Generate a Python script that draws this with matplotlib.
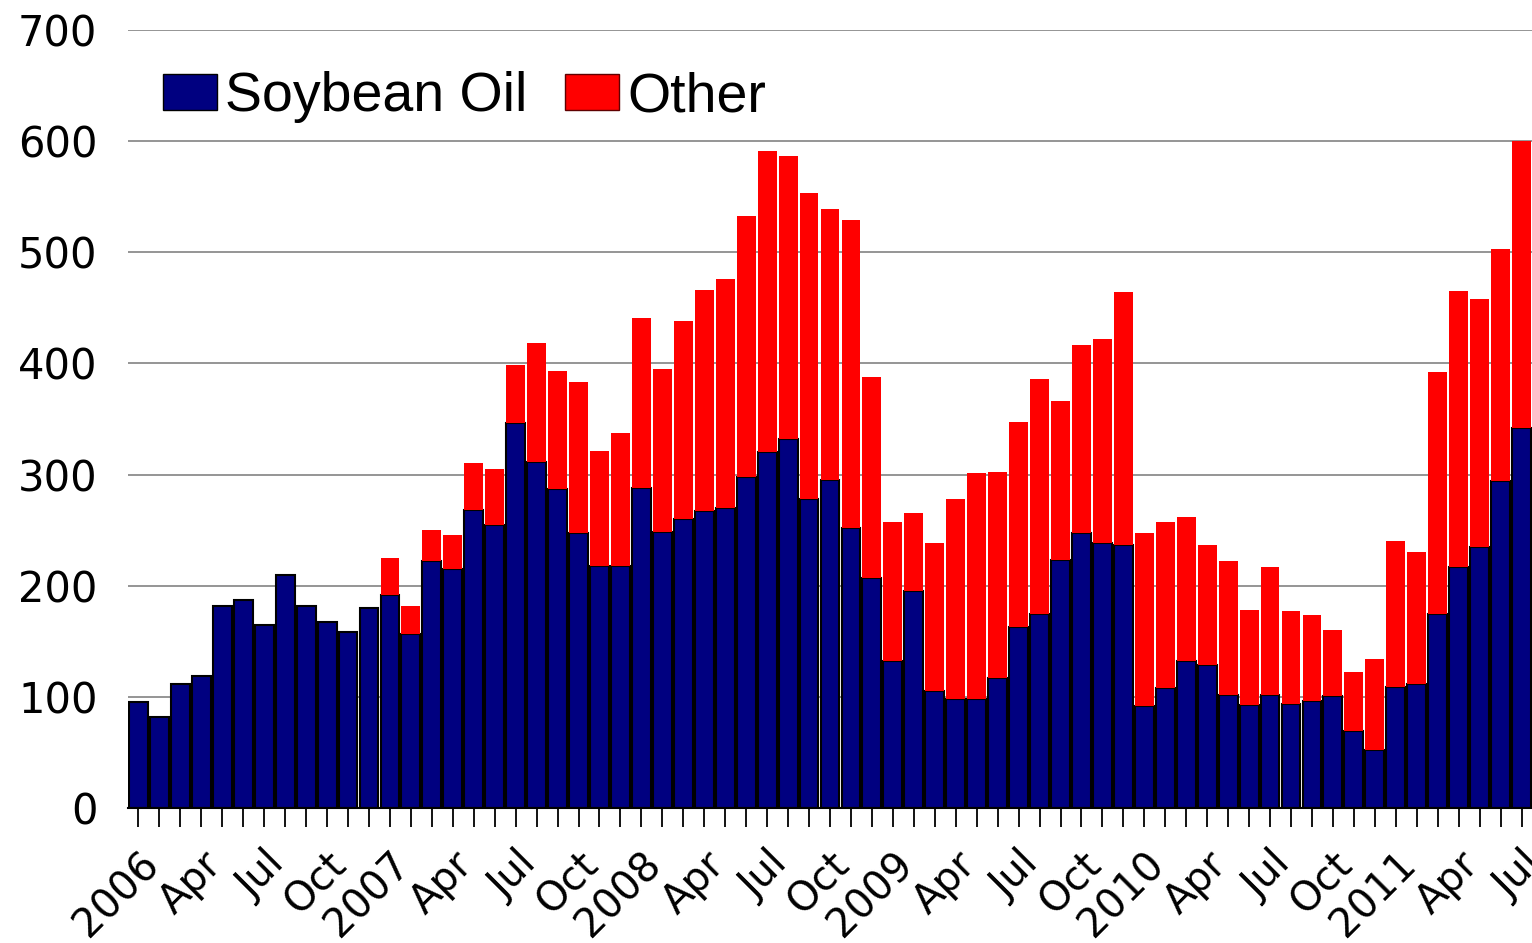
import numpy as np
import matplotlib
matplotlib.use('Agg')
import matplotlib.pyplot as plt
from matplotlib.patches import Patch

# monthly values, Jan 2006 .. Jul 2011
years = ['2006', '2007', '2008', '2009', '2010', '2011']
soybean = [95, 82, 112, 119, 182, 187, 165, 210, 182, 167, 158, 180,
           192, 157, 222, 215, 268, 255, 346, 311, 287, 247, 218, 218,
           288, 248, 260, 267, 270, 298, 320, 332, 278, 295, 252, 207,
           132, 195, 105, 98, 98, 117, 163, 175, 223, 247, 238, 237,
           92, 108, 132, 129, 102, 93, 102, 94, 96, 101, 69, 52,
           109, 112, 175, 217, 235, 294, 342]
other = [0, 0, 0, 0, 0, 0, 0, 0, 0, 0, 0, 0,
         33, 25, 28, 31, 42, 50, 53, 107, 106, 136, 103, 119,
         153, 147, 178, 199, 206, 235, 271, 255, 275, 244, 277, 181,
         125, 70, 133, 180, 203, 185, 184, 211, 143, 170, 184, 227,
         155, 149, 130, 108, 120, 85, 115, 83, 78, 59, 53, 82,
         131, 118, 217, 248, 223, 209, 258]
month_names = ['Apr', 'Jul', 'Oct']

NAVY = '#000080'
RED = '#ff0000'

n = len(soybean)
x = np.arange(n)

fig = plt.figure(figsize=(15.32, 9.43), dpi=100)
ax = fig.add_axes([128 / 1532, 1 - 808 / 943, 1 - 128 / 1532, (808 - 30) / 943])

ax.bar(x, soybean, width=0.9, color=NAVY, edgecolor='black', linewidth=1.5, zorder=3)
ax.bar(x, other, bottom=soybean, width=0.9, color=RED, edgecolor='none', zorder=3)

ax.set_xlim(-0.5, n - 0.5)
ax.set_ylim(0, 700)
ax.set_yticks(range(0, 701, 100))
ax.yaxis.grid(True, color='#8c8c8c', linewidth=1.3, zorder=0)
ax.tick_params(axis='y', length=0, pad=22, labelsize=30)

# x labels: year at January, month abbreviations every quarter
labels = []
for i in range(n):
    if i % 12 == 0:
        labels.append(years[i // 12])
    elif i % 3 == 0:
        labels.append(month_names[(i % 12) // 3 - 1])
    else:
        labels.append('')
ax.set_xticks(x)
ax.set_xticklabels(labels, rotation=45, ha='right', rotation_mode='anchor', fontsize=29)
ax.tick_params(axis='x', length=14, width=1.3, pad=12, color='black')

for side in ['top', 'right', 'left']:
    ax.spines[side].set_visible(False)
ax.spines['bottom'].set_linewidth(1.5)
ax.spines['bottom'].set_zorder(4)

handles = [Patch(facecolor=NAVY, edgecolor='black', linewidth=1),
           Patch(facecolor=RED, edgecolor='#600000', linewidth=1)]
leg = ax.legend(handles, ['Soybean Oil', 'Other'], ncol=2, frameon=False,
                loc='upper left', bbox_to_anchor=(0.0249, 0.947),
                borderpad=0, borderaxespad=0, handlelength=0.97, handleheight=0.63,
                handletextpad=0.15, columnspacing=0.68,
                prop={'family': 'Liberation Sans', 'size': 40})

fig.savefig('out.png', dpi=100)
